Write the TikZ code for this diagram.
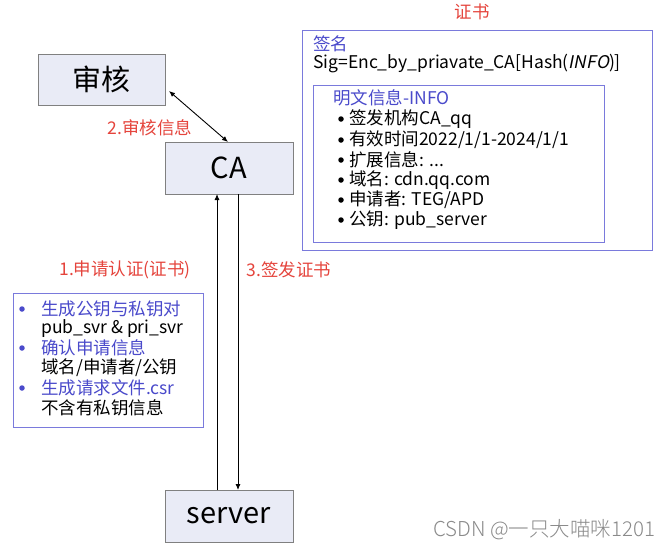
\documentclass[tikz,border=0pt]{standalone}
\usepackage{fontspec}
\setmainfont{Noto Sans CJK SC}
\newfontfamily\wmfont{Noto Sans CJK SC Light}
\newfontfamily\slantfont[FakeSlant=0.2]{Noto Sans CJK SC}
\definecolor{boxfill}{HTML}{E9EBF6}
\definecolor{boxline}{HTML}{808080}
\definecolor{redtxt}{HTML}{E5443C}
\definecolor{bluetxt}{HTML}{4A4ACB}
\definecolor{blueline}{HTML}{7A7ADC}
\definecolor{wm}{HTML}{8A8A8A}
\usetikzlibrary{arrows.meta}
\tikzset{
  entity/.style={draw=boxline, line width=1pt, fill=boxfill, font=\fontsize{29}{31}\selectfont, inner sep=0pt},
  redlabel/.style={text=redtxt, font=\fontsize{17.5}{19}\selectfont, inner sep=0pt},
  txt/.style={anchor=west, inner sep=0pt, font=\fontsize{17.5}{19}\selectfont},
  bluet/.style={txt, text=bluetxt},
  frame/.style={draw=blueline, line width=1pt},
  conn/.style={line width=0.9pt, -{Latex[length=6pt,width=5pt]}},
  dot/.style={circle, fill=black, inner sep=0pt, minimum size=5.5pt},
  bdot/.style={circle, fill=bluetxt, inner sep=0pt, minimum size=5.5pt},
}
\begin{document}
\begin{tikzpicture}[x=1pt,y=-1pt]
\useasboundingbox[fill=white] (0,0) rectangle (668,555);
% entity boxes
\node[entity, minimum width=127pt, minimum height=51pt] (audit) at (101.5,79.5) {审核};
\node[entity, minimum width=128pt, minimum height=52pt] (ca) at (229,168) {CA};
\node[entity, minimum width=128pt, minimum height=52pt] (server) at (229,516) {server};
% connectors
\coordinate (caL) at (217,194);
\coordinate (caR) at (238,194);
\coordinate (svL) at (217,490);
\coordinate (svR) at (238,490);
\draw[conn] (svL) -- (caL);
\draw[conn] (caR) -- (svR);
\coordinate (a1) at (169,91);
\coordinate (a2) at (228,142);
\draw[line width=0.9pt, {Latex[length=6pt,width=5pt]}-{Latex[length=6pt,width=5pt]}] (a1) -- (a2);
% labels
\node[redlabel] (l2) at (150,128) {2.审核信息};
\node[redlabel] (l1) at (125,270) {1.申请认证(证书)};
\node[redlabel] (l3) at (289,270) {3.签发证书};
% left box
\draw[frame] (13,293) rectangle (203,427);
\node[bdot] (b1) at (22,309) {};
\node[bluet] (t1) at (41,309) {生成公钥与私钥对};
\node[txt] (t2) at (41,329) {pub\_svr \& pri\_svr};
\node[bdot] (b2) at (22,348) {};
\node[bluet] (t3) at (41,348) {确认申请信息};
\node[txt] (t4) at (41,368) {域名/申请者/公钥};
\node[bdot] (b3) at (22,388) {};
\node[bluet] (t5) at (41,388) {生成请求文件.csr};
\node[txt] (t6) at (41,408) {不含有私钥信息};
% certificate
\node[redlabel] (cert) at (472,12) {证书};
\draw[frame] (302,30) rectangle (652,250);
\node[bluet] (sig) at (313,44) {签名};
\node[txt] (sigf) at (313,64) {Sig=Enc\_by\_priavate\_CA[Hash({\slantfont INFO})]};
\draw[frame] (313,85) rectangle (604,242);
\node[bluet] (info) at (333,98) {明文信息-INFO};
\node[dot] (d1) at (341,119) {};
\node[txt] (i1) at (349,119) {签发机构CA\_qq};
\node[dot] (d2) at (341,140) {};
\node[txt] (i2) at (349,140) {有效时间2022/1/1-2024/1/1};
\node[dot] (d3) at (341,160) {};
\node[txt] (i3) at (349,160) {扩展信息: ...};
\node[dot] (d4) at (341,180) {};
\node[txt] (i4) at (349,180) {域名: cdn.qq.com};
\node[dot] (d5) at (341,200) {};
\node[txt] (i5) at (349,200) {申请者: TEG/APD};
\node[dot] (d6) at (341,220) {};
\node[txt] (i6) at (349,220) {公钥: pub\_server};
% watermark
\node[anchor=west, inner sep=0pt, text=wm, font=\wmfont\fontsize{20.5}{22}\selectfont] (wmk) at (433,530) {CSDN @一只大喵咪1201};
\end{tikzpicture}
\end{document}
